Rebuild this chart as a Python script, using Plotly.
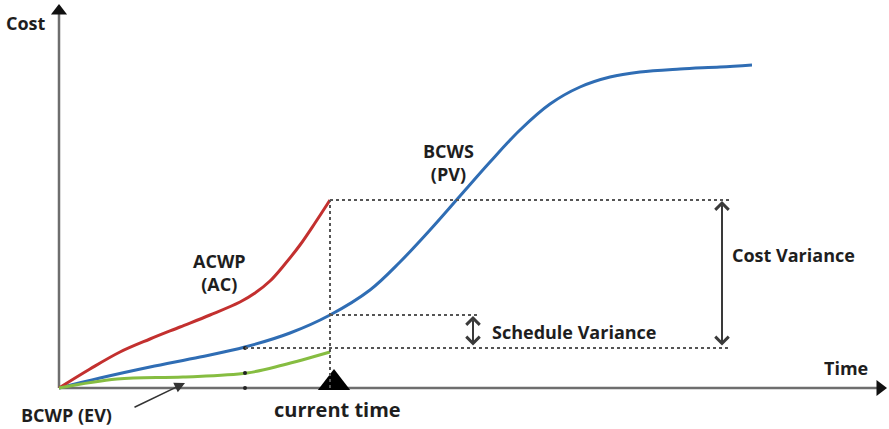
import plotly.graph_objects as go

# Earned-value S-curves (time units on x, cost units on y)
pv_time = [0, 41, 91, 141, 186, 231, 271, 311, 341, 371, 401, 431, 461, 491, 521, 551, 581, 621, 661, 693]
pv_cost = [0, 10, 21, 31, 41, 55, 73, 98, 126, 158, 192, 226, 258, 284, 301, 311, 316, 319, 321, 323]

ac_time = [0, 31, 61, 91, 121, 151, 181, 196, 211, 226, 241, 256, 271]
ac_cost = [0, 19, 36, 49, 61, 73, 86, 95, 107, 124, 143, 165, 188]

ev_time = [0, 58, 124, 188, 224, 271]
ev_cost = [0, 9, 11, 15, 23, 36]

now = 271          # current time
ac_now = 188       # actual cost at current time
pv_now = 73        # planned value at current time
ev_level = 40      # earned value reference level
ev_time_pv = 186   # time at which planned value equals earned value

RED = "#c3302f"
BLUE = "#2f6db4"
GREEN = "#86bd41"
AXIS = "#6e6e6e"
DOT = "#555555"
TXT = "#1e1e1e"
FONT = "Open Sans"

fig = go.Figure()

# axes drawn as arrows
fig.add_trace(go.Scatter(x=[0, 0], y=[0, 378], mode="lines",
                         line=dict(color=AXIS, width=2.5), hoverinfo="skip"))
fig.add_trace(go.Scatter(x=[0, 820], y=[0, 0], mode="lines",
                         line=dict(color=AXIS, width=2.5), hoverinfo="skip"))
fig.add_trace(go.Scatter(x=[0], y=[377], mode="markers",
                         marker=dict(symbol="triangle-up", size=14, color="#111"), hoverinfo="skip"))
fig.add_trace(go.Scatter(x=[821], y=[0], mode="markers",
                         marker=dict(symbol="triangle-right", size=14, color="#111"), hoverinfo="skip"))

# curves
fig.add_trace(go.Scatter(x=pv_time, y=pv_cost, mode="lines", line_shape="spline",
                         line=dict(color=BLUE, width=3), hoverinfo="skip"))
fig.add_trace(go.Scatter(x=ac_time, y=ac_cost, mode="lines", line_shape="spline",
                         line=dict(color=RED, width=3), hoverinfo="skip"))
fig.add_trace(go.Scatter(x=ev_time, y=ev_cost, mode="lines", line_shape="spline",
                         line=dict(color=GREEN, width=3), hoverinfo="skip"))

# small reference dots
fig.add_trace(go.Scatter(x=[ev_time_pv, ev_time_pv, ev_time_pv], y=[ev_level, 15, 0], mode="markers",
                         marker=dict(size=4, color="#222"), hoverinfo="skip"))

# current-time marker
fig.add_trace(go.Scatter(x=[now + 4], y=[5], mode="markers",
                         marker=dict(symbol="triangle-up", size=28, color="#000"), hoverinfo="skip"))

# dotted guide lines
dot_line = dict(color=DOT, width=2, dash="dot")
fig.add_shape(type="line", x0=now, x1=now, y0=0, y1=ac_now, line=dot_line)
fig.add_shape(type="line", x0=now, x1=671, y0=ac_now, y1=ac_now, line=dot_line)
fig.add_shape(type="line", x0=now, x1=418, y0=pv_now, y1=pv_now, line=dot_line)
fig.add_shape(type="line", x0=ev_time_pv, x1=671, y0=ev_level, y1=ev_level, line=dot_line)

# variance arrows
for xa, ytop in [(663, ac_now), (414, pv_now)]:
    fig.add_annotation(x=xa, y=ytop - 1, ax=xa, ay=ev_level + 1, xref="x", yref="y",
                       axref="x", ayref="y", showarrow=True, arrowhead=4, startarrowhead=4,
                       arrowside="end+start", arrowsize=1.3, startarrowsize=1.3,
                       arrowwidth=2, arrowcolor="#3a3a3a", text="")

# pointer to the earned-value curve
fig.add_annotation(x=126, y=5, ax=74, ay=-20, xref="x", yref="y", axref="x", ayref="y",
                   showarrow=True, arrowhead=2, arrowsize=1.4, arrowwidth=1.5,
                   arrowcolor="#333", text="")

labels = [
    ("Cost", -33, 365, 18),
    ("Time", 787, 20, 18),
    ("current time", 278, -21, 20),
    ("BCWP (EV)", 7, -27, 18),
    ("ACWP<br>(AC)", 160, 116, 18),
    ("BCWS<br>(PV)", 389, 226, 18),
    ("Cost Variance", 734, 133, 18),
    ("Schedule Variance", 515, 56, 18),
]
for text, lx, ly, size in labels:
    fig.add_annotation(x=lx, y=ly, xref="x", yref="y",
                       text="<br>".join("<b>%s</b>" % part for part in text.split("<br>")),
                       showarrow=False, borderpad=0,
                       font=dict(family=FONT, size=size, color=TXT))

fig.update_layout(
    width=889, height=429,
    margin=dict(l=0, r=0, t=0, b=0),
    paper_bgcolor="white", plot_bgcolor="white",
    showlegend=False,
    xaxis=dict(range=[-59, 830], visible=False, fixedrange=True),
    yaxis=dict(range=[-41, 388], visible=False, fixedrange=True),
)

fig.write_html("out.html")
